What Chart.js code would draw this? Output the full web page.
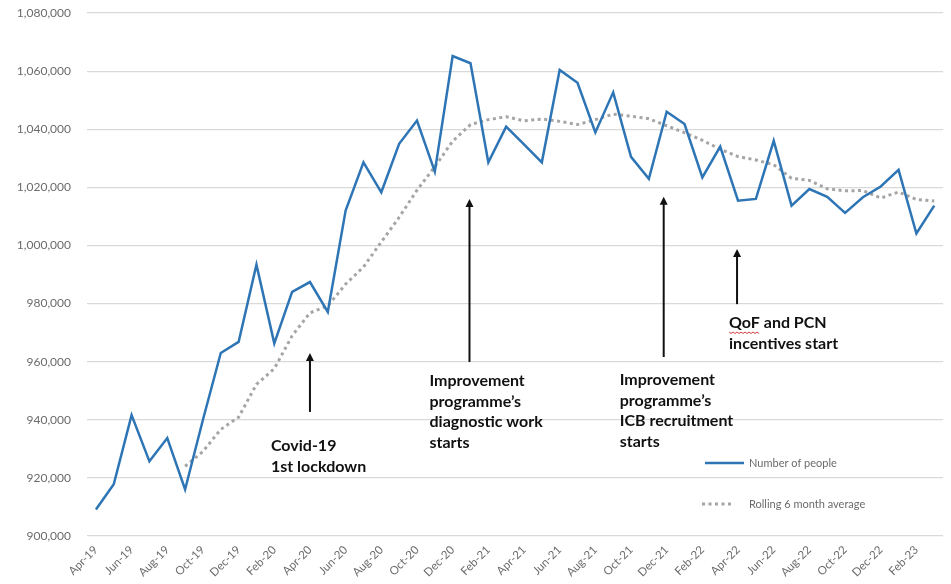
<!DOCTYPE html>
<html>
<head>
<meta charset="utf-8">
<script src="https://cdn.jsdelivr.net/npm/chart.js@4"></script>
<style>
  html, body { margin: 0; padding: 0; background: #ffffff; }
  #wrap { width: 951px; height: 584px; }
</style>
</head>
<body>
<div id="wrap"><canvas id="chart" width="951" height="584"></canvas></div>
<script>
// Monthly categories, April 2019 to March 2023
const months = [
  'Apr-19','May-19','Jun-19','Jul-19','Aug-19','Sep-19','Oct-19','Nov-19','Dec-19','Jan-20','Feb-20','Mar-20',
  'Apr-20','May-20','Jun-20','Jul-20','Aug-20','Sep-20','Oct-20','Nov-20','Dec-20','Jan-21','Feb-21','Mar-21',
  'Apr-21','May-21','Jun-21','Jul-21','Aug-21','Sep-21','Oct-21','Nov-21','Dec-21','Jan-22','Feb-22','Mar-22',
  'Apr-22','May-22','Jun-22','Jul-22','Aug-22','Sep-22','Oct-22','Nov-22','Dec-22','Jan-23','Feb-23','Mar-23'
];

// Number of people each month
const numberOfPeople = [
  909100, 917800, 941600, 925700, 933700, 916000, 940000, 963000, 966800, 993400, 966300, 984000,
  987400, 977100, 1012000, 1028600, 1018300, 1035000, 1043000, 1025400, 1065200, 1062700, 1028600, 1040900,
  1034800, 1028600, 1060400, 1056000, 1038900, 1052700, 1030500, 1022900, 1046000, 1041800, 1023400, 1034000,
  1015400, 1016000, 1036000, 1013700, 1019400, 1016700, 1011200, 1016600, 1020300, 1026000, 1004100, 1013700
];

// Rolling 6 month average (first value shown at Sep-19)
const rollingAverage = [
  null, null, null, null, null, 924000, 929100, 936700, 940900, 952200, 957600, 968900,
  976800, 979200, 986700, 992600, 1001200, 1009700, 1019000, 1027100, 1035900, 1041600, 1043300, 1044300,
  1042900, 1043500, 1042700, 1041600, 1043300, 1045200, 1044500, 1043600, 1041200, 1038800, 1036200, 1033100,
  1030600, 1029400, 1027800, 1023100, 1022400, 1019500, 1018800, 1018900, 1016300, 1018400, 1015800, 1015300
];

// Axis range
const yMin = 900000;
const yMax = 1080000;
const yStep = 20000;

// Event markers: arrow from tail value up to tip value at a month
const events = [
  { month: 'Apr-20', shift: 0,  tip: 963000,  tail: 942700, lines: ['Covid-19', '1st lockdown'], textX: -39, textY: 446 },
  { month: 'Jan-21', shift: -1, tip: 1016000, tail: 959900, lines: ['Improvement', 'programme\u2019s', 'diagnostic work', 'starts'], textX: -40, textY: 381 },
  { month: 'Dec-21', shift: -3, tip: 1016800, tail: 961600, lines: ['Improvement', 'programme\u2019s', 'ICB recruitment', 'starts'], textX: -44, textY: 380 },
  { month: 'Apr-22', shift: -1, tip: 998800,  tail: 979800, lines: ['QoF and PCN', 'incentives start'], textX: -8, textY: 323, squiggle: 'QoF' }
];

const blue = '#2E75B6';
const grey = '#A5A5A5';
const labelGrey = '#6b6b6b';
const gridGrey = '#d9d9d9';

const eventsPlugin = {
  id: 'eventsAndLegend',
  afterDatasetsDraw(chart) {
    const ctx = chart.ctx;
    const x = chart.scales.x;
    const y = chart.scales.y;
    ctx.save();
    events.forEach(ev => {
      const px = x.getPixelForValue(months.indexOf(ev.month)) + ev.shift;
      const tipY = y.getPixelForValue(ev.tip);
      const tailY = y.getPixelForValue(ev.tail);
      // shaft
      ctx.strokeStyle = '#111';
      ctx.lineWidth = 2;
      ctx.beginPath();
      ctx.moveTo(px, tailY);
      ctx.lineTo(px, tipY + 6);
      ctx.stroke();
      // head
      ctx.fillStyle = '#111';
      ctx.beginPath();
      ctx.moveTo(px, tipY);
      ctx.lineTo(px - 4, tipY + 8);
      ctx.lineTo(px + 4, tipY + 8);
      ctx.closePath();
      ctx.fill();
      // text
      ctx.font = 'bold 16px Lato';
      ctx.fillStyle = '#111';
      ctx.textAlign = 'left';
      ctx.textBaseline = 'middle';
      const tx = px + ev.textX;
      ev.lines.forEach((line, i) => {
        ctx.fillText(line, tx, ev.textY + i * 20.5);
      });
      if (ev.squiggle) {
        const w = ctx.measureText(ev.squiggle).width;
        ctx.strokeStyle = '#d23c3c';
        ctx.lineWidth = 1;
        ctx.beginPath();
        const sy = ev.textY + 9;
        for (let sx = tx; sx <= tx + w; sx += 2) {
          const yy = sy + (((sx - tx) / 2) % 2 === 0 ? 0 : 1.5);
          if (sx === tx) ctx.moveTo(sx, yy); else ctx.lineTo(sx, yy);
        }
        ctx.stroke();
      }
    });

    // legend
    const ds = chart.data.datasets;
    const legendRows = [
      { ds: ds[0], y: 463, x0: 705, x1: 744 },
      { ds: ds[1], y: 504, x0: 702, x1: 733 }
    ];
    ctx.font = '11px Lato';
    ctx.textBaseline = 'middle';
    legendRows.forEach(r => {
      ctx.strokeStyle = r.ds.borderColor;
      ctx.lineWidth = r.ds.borderWidth;
      ctx.setLineDash(r.ds.borderDash || []);
      ctx.beginPath();
      ctx.moveTo(r.x0, r.y);
      ctx.lineTo(r.x1, r.y);
      ctx.stroke();
      ctx.setLineDash([]);
      ctx.fillStyle = labelGrey;
      ctx.fillText(r.ds.label, 749, r.y);
    });
    ctx.restore();
  }
};

new Chart(document.getElementById('chart'), {
  type: 'line',
  data: {
    labels: months,
    datasets: [
      {
        label: 'Number of people',
        data: numberOfPeople,
        borderColor: blue,
        borderWidth: 2.5,
        pointRadius: 0,
        tension: 0,
        fill: false,
        order: 1
      },
      {
        label: 'Rolling 6 month average',
        data: rollingAverage,
        borderColor: grey,
        borderWidth: 3,
        borderDash: [3, 3.5],
        pointRadius: 0,
        tension: 0,
        fill: false,
        order: 2
      }
    ]
  },
  options: {
    responsive: false,
    animation: false,
    devicePixelRatio: 1,
    layout: { padding: { top: 13, left: 0, right: 0, bottom: 0 } },
    plugins: {
      legend: { display: false },
      tooltip: { enabled: false }
    },
    scales: {
      x: {
        offset: true,
        grid: { display: false, drawTicks: false },
        border: { display: false },
        ticks: {
          autoSkip: false,
          minRotation: 45,
          maxRotation: 45,
          padding: 7,
          color: labelGrey,
          font: { family: 'Lato', size: 11.5 },
          callback: function (value, index) {
            return index % 2 === 0 ? months[index] : '';
          }
        },
        afterFit: scale => { scale.height = 48; }
      },
      y: {
        min: yMin,
        max: yMax,
        grid: { color: gridGrey, lineWidth: 1.2, drawTicks: true, tickLength: 13, tickColor: 'rgba(0,0,0,0)' },
        border: { display: false },
        ticks: {
          stepSize: yStep,
          padding: 3,
          color: labelGrey,
          font: { family: 'Lato', size: 12 },
          callback: v => v.toLocaleString('en-US')
        },
        afterFit: scale => { scale.width = 87; }
      }
    }
  },
  plugins: [eventsPlugin]
});
</script>
</body>
</html>
